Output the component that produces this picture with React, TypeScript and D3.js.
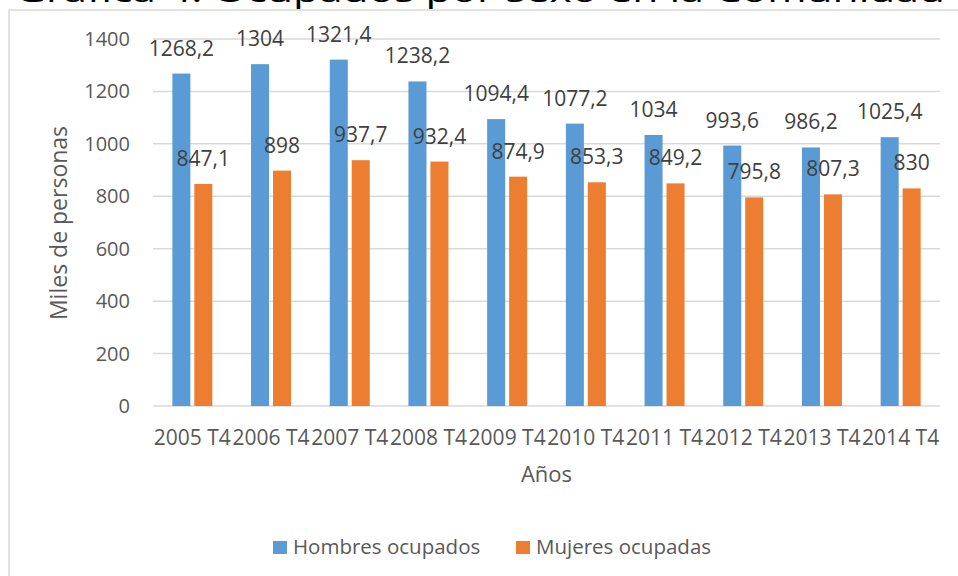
import React, { useEffect, useRef } from "react";
import * as d3 from "d3";

const categories = [
  "2005 T4", "2006 T4", "2007 T4", "2008 T4", "2009 T4",
  "2010 T4", "2011 T4", "2012 T4", "2013 T4", "2014 T4",
];
const hombres = [1268.2, 1304, 1321.4, 1238.2, 1094.4, 1077.2, 1034, 993.6, 986.2, 1025.4];
const mujeres = [847.1, 898, 937.7, 932.4, 874.9, 853.3, 849.2, 795.8, 807.3, 830];
const seriesNames = ["Hombres ocupados", "Mujeres ocupadas"];
const seriesColors = ["#5B9BD5", "#ED7D31"];
const yTicks = [0, 200, 400, 600, 800, 1000, 1200, 1400];

const FONT = "'Open Sans', sans-serif";

const App = () => {
  const ref = useRef<SVGSVGElement>(null);

  useEffect(() => {
    const svg = d3.select(ref.current);
    svg.selectAll("*").remove();

    const width = 958;
    const height = 576;
    const left = 153;
    const right = 940;
    const top = 39;
    const bottom = 406;

    svg.attr("width", width).attr("height", height);

    // chart title (cut off at top of the picture)
    svg
      .append("text")
      .attr("x", 480)
      .attr("y", 1.5)
      .attr("text-anchor", "middle")
      .attr("font-family", FONT)
      .attr("font-size", 28)
      .attr("fill", "#000")
      .attr("textLength", 930)
      .attr("lengthAdjust", "spacingAndGlyphs")
      .text("Gráfica 4. Ocupados por sexo en la Comunidad");

    // chart border
    svg
      .append("rect")
      .attr("x", 9)
      .attr("y", 10)
      .attr("width", 1000)
      .attr("height", 700)
      .attr("fill", "#fff")
      .attr("stroke", "#D9D9D9")
      .attr("stroke-width", 1.5);

    const x0 = d3.scaleBand().domain(categories).range([left, right]);
    const x1 = d3
      .scaleBand()
      .domain(seriesNames)
      .range([0, 40])
      .paddingInner(0.18);
    const offset = (x0.bandwidth() - 40) / 2;

    const y = d3.scaleLinear().domain([0, 1400]).range([bottom, top]);

    // gridlines
    svg
      .append("g")
      .selectAll("line")
      .data(yTicks)
      .enter()
      .append("line")
      .attr("x1", left)
      .attr("x2", right)
      .attr("y1", d => y(d))
      .attr("y2", d => y(d))
      .attr("stroke", "#D9D9D9")
      .attr("stroke-width", 1.5);

    // y tick labels
    svg
      .append("g")
      .selectAll("text")
      .data(yTicks)
      .enter()
      .append("text")
      .attr("x", 130)
      .attr("y", d => y(d))
      .attr("dy", "0.35em")
      .attr("text-anchor", "end")
      .attr("font-family", FONT)
      .attr("font-size", 20)
      .attr("fill", "#595959")
      .text(d => d);

    const rows = categories.map((c, i) => ({ c, values: [hombres[i], mujeres[i]] }));

    const groups = svg
      .append("g")
      .selectAll("g")
      .data(rows)
      .enter()
      .append("g")
      .attr("transform", d => `translate(${(x0(d.c) || 0) + offset},0)`);

    groups
      .selectAll("rect")
      .data(d => d.values.map((v, k) => ({ v, k })))
      .enter()
      .append("rect")
      .attr("x", d => x1(seriesNames[d.k]) || 0)
      .attr("y", d => y(d.v))
      .attr("width", x1.bandwidth())
      .attr("height", d => bottom - y(d.v))
      .attr("fill", d => seriesColors[d.k]);

    // data labels
    groups
      .selectAll("text")
      .data(d => d.values.map((v, k) => ({ v, k })))
      .enter()
      .append("text")
      .attr("x", d => (x1(seriesNames[d.k]) || 0) + x1.bandwidth() / 2)
      .attr("y", d => y(d.v) - 18)
      .attr("text-anchor", "middle")
      .attr("font-family", FONT)
      .attr("font-size", 21)
      .attr("fill", "#404040")
      .text(d => String(d.v).replace(".", ","));

    // x labels
    svg
      .append("g")
      .selectAll("text")
      .data(categories)
      .enter()
      .append("text")
      .attr("x", d => (x0(d) || 0) + x0.bandwidth() / 2)
      .attr("y", 445)
      .attr("text-anchor", "middle")
      .attr("font-family", FONT)
      .attr("font-size", 21)
      .attr("fill", "#595959")
      .text(d => d);

    // axis titles
    svg
      .append("text")
      .attr("x", (left + right) / 2)
      .attr("y", 482)
      .attr("text-anchor", "middle")
      .attr("font-family", FONT)
      .attr("font-size", 22)
      .attr("fill", "#595959")
      .text("Años");

    svg
      .append("text")
      .attr("transform", "rotate(-90)")
      .attr("x", -223)
      .attr("y", 67)
      .attr("text-anchor", "middle")
      .attr("font-family", FONT)
      .attr("font-size", 23)
      .attr("fill", "#595959")
      .text("Miles de personas");

    // legend
    const legendX = [273, 516];
    seriesNames.forEach((name, k) => {
      svg
        .append("rect")
        .attr("x", legendX[k])
        .attr("y", 541)
        .attr("width", 14)
        .attr("height", 13)
        .attr("fill", seriesColors[k]);
      svg
        .append("text")
        .attr("x", legendX[k] + 20)
        .attr("y", 554)
        .attr("font-family", FONT)
        .attr("font-size", 20.5)
        .attr("fill", "#595959")
        .text(name);
    });
  }, []);

  return (
    <svg
      ref={ref}
      style={{ position: "absolute", left: 0, top: 0, display: "block" }}
    ></svg>
  );
};

export default App;
